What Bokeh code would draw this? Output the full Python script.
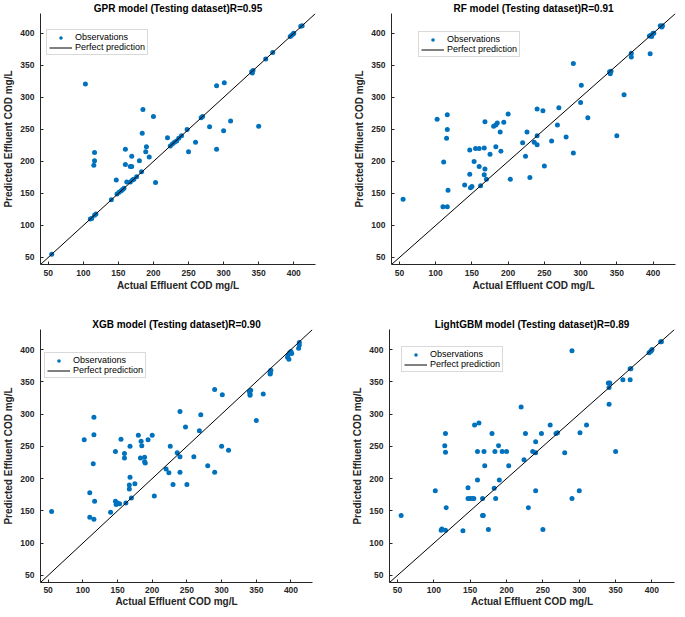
from bokeh.plotting import figure
from bokeh.layouts import column, row
from bokeh.models import Range1d, FixedTicker, Legend, LegendItem
from bokeh.embed import file_html
from bokeh.resources import INLINE

# ---------------- data ----------------
AXIS_LIMITS = [39, 431]
TICKS = [50, 100, 150, 200, 250, 300, 350, 400]
X_LABEL = "Actual Effluent COD mg/L"
Y_LABEL = "Predicted Effluent COD mg/L"

gpr_title = "GPR model (Testing dataset)R=0.95"
gpr_actual = [55, 103, 110, 112, 116, 118, 115, 116, 116, 140, 147, 148, 151, 154, 156, 158,
              160, 160, 162, 167, 170, 172, 176, 183, 167, 169, 169, 180, 184, 185, 189, 190,
              194, 200, 203, 220, 224, 227, 230, 233, 236, 240, 248, 250, 260, 268, 270, 280,
              290, 290, 300, 301, 310, 340, 341, 342, 350, 360, 370, 395, 397, 399, 400, 410, 412]
gpr_pred = [55, 321, 110, 111, 116, 118, 194, 201, 214, 140, 171, 149, 152, 154, 156, 158,
            219, 195, 168, 168, 171, 172, 176, 184, 192, 192, 208, 201, 244, 281, 215, 223,
            207, 270, 167, 237, 224, 227, 230, 232, 236, 240, 250, 215, 230, 268, 270, 254,
            318, 219, 248, 323, 263, 340, 338, 342, 255, 360, 370, 395, 397, 399, 400, 411, 412]

rf_title = "RF model (Testing dataset)R=0.91"
rf_actual = [55, 102, 110, 116, 111, 115, 116, 116, 117, 140, 147, 147, 148, 150, 153, 155,
             160, 160, 162, 167, 167, 168, 168, 170, 175, 180, 183, 185, 183, 189, 190, 194,
             200, 203, 220, 224, 226, 230, 236, 240, 240, 240, 248, 250, 260, 268, 270, 280,
             290, 290, 300, 301, 310, 340, 341, 342, 350, 360, 370, 370, 396, 395, 397, 398,
             400, 401, 410, 412, 413]
rf_pred = [141, 266, 129, 129, 199, 236, 250, 273, 155, 163, 180, 218, 159, 161, 200, 220,
           220, 192, 162, 221, 179, 188, 262, 172, 211, 255, 257, 260, 223, 246, 216, 261,
           274, 172, 229, 208, 246, 175, 230, 240, 226, 282, 279, 193, 232, 257, 284, 238,
           213, 353, 292, 319, 268, 340, 337, 341, 240, 304, 369, 363, 368, 396, 397, 395,
           400, 400, 412, 410, 412]

xgb_title = "XGB model (Testing dataset)R=0.90"
xgb_actual = [55, 102, 110, 110, 115, 116, 116, 116, 117, 140, 147, 148, 150, 153, 147, 155,
              160, 160, 162, 167, 167, 168, 168, 170, 175, 180, 183, 184, 185, 189, 189, 190,
              194, 200, 203, 220, 224, 226, 230, 236, 240, 240, 240, 248, 250, 260, 268, 270,
              280, 290, 290, 300, 301, 310, 340, 341, 342, 341, 350, 360, 370, 370, 371, 370,
              395, 396, 397, 398, 400, 401, 411, 412, 412]
xgb_pred = [149, 260, 178, 140, 223, 137, 295, 268, 165, 148, 165, 160, 162, 161, 242, 261,
            239, 232, 162, 190, 184, 202, 250, 170, 192, 267, 232, 258, 251, 233, 226, 224,
            260, 267, 173, 215, 209, 250, 191, 240, 304, 234, 210, 280, 191, 234, 274, 299,
            220, 210, 338, 250, 330, 244, 335, 331, 337, 329, 290, 331, 366, 362, 368, 363,
            388, 392, 385, 395, 397, 394, 402, 407, 411]

lgbm_title = "LightGBM model (Testing dataset)R=0.89"
lgbm_actual = [55, 102, 110, 111, 115, 116, 116, 116, 117, 140, 147, 147, 150, 153, 155, 156,
               160, 160, 162, 167, 167, 168, 169, 170, 175, 180, 183, 184, 185, 189, 190, 194,
               200, 203, 220, 224, 226, 230, 236, 240, 240, 240, 248, 250, 260, 268, 270, 280,
               290, 290, 300, 301, 310, 340, 342, 341, 341, 350, 360, 370, 370, 371, 396, 398,
               399, 400, 412, 413]
lgbm_pred = [143, 181, 120, 122, 251, 270, 241, 120, 155, 119, 186, 169, 169, 169, 169, 283,
             198, 242, 286, 169, 143, 143, 242, 220, 121, 270, 185, 242, 169, 251, 198, 242,
             242, 220, 311, 229, 270, 155, 242, 257, 240, 181, 270, 121, 283, 270, 271, 240,
             169, 398, 181, 271, 283, 348, 348, 341, 315, 242, 353, 353, 370, 370, 395, 397,
             398, 400, 412, 412]

BLUE = "#0072BD"
AX = "#262626"
FONT = "Liberation Sans"


def make_panel(title, actual, pred, width, height, mb, legend_loc, x_standoffs):
    left, right, top, bottom = mb
    p = figure(width=width, height=height,
               x_range=Range1d(*AXIS_LIMITS), y_range=Range1d(*AXIS_LIMITS),
               output_backend="svg", toolbar_location=None,
               min_border_left=left, min_border_right=right,
               min_border_top=top, min_border_bottom=bottom,
               title=title)
    p.outline_line_color = None
    p.background_fill_color = "white"
    p.border_fill_color = "white"
    p.xgrid.visible = False
    p.ygrid.visible = False

    p.title.align = "center"
    p.title.text_font = FONT
    p.title.text_font_size = "10px"
    p.title.text_font_style = "bold"
    p.title.text_color = "black"
    p.title.standoff = 0

    for ax in (p.xaxis, p.yaxis):
        ax.ticker = FixedTicker(ticks=TICKS)
        ax.axis_line_color = AX
        ax.major_tick_line_color = AX
        ax.major_tick_in = 3
        ax.major_tick_out = 0
        ax.minor_tick_line_color = None
        ax.major_label_text_font = FONT
        ax.major_label_text_font_size = "8.5px"
        ax.major_label_text_font_style = "bold"
        ax.major_label_text_color = AX
        ax.axis_label_text_font = FONT
        ax.axis_label_text_font_size = "10px"
        ax.axis_label_text_font_style = "bold"
        ax.axis_label_text_color = AX
    p.xaxis.axis_label = X_LABEL
    p.yaxis.axis_label = Y_LABEL
    p.xaxis.major_label_standoff = x_standoffs[0]
    p.xaxis.axis_label_standoff = x_standoffs[1]
    p.yaxis.major_label_standoff = 6
    p.yaxis.axis_label_standoff = 3

    sc = p.scatter(actual, pred, size=5, fill_color=BLUE, line_color=None)
    ln = p.line(AXIS_LIMITS, AXIS_LIMITS, line_color="black", line_width=1)

    legend = Legend(items=[LegendItem(label="Observations", renderers=[sc]),
                           LegendItem(label="Perfect prediction", renderers=[ln])],
                    location=legend_loc)
    legend.label_text_font = FONT
    legend.label_text_font_size = "9px"
    legend.label_text_color = "black"
    legend.glyph_width = 23
    legend.glyph_height = 9
    legend.label_height = 9
    legend.label_standoff = 3
    legend.padding = 2
    legend.spacing = 0
    legend.margin = 0
    legend.border_line_color = "#b4b4b4"
    legend.border_line_width = 1
    legend.background_fill_color = "white"
    legend.background_fill_alpha = 1
    p.add_layout(legend)
    return p


p1 = make_panel(gpr_title, gpr_actual, gpr_pred, 340, 305, (37, 25, 12, 41), (6, 209), (5, 1))
p2 = make_panel(rf_title, rf_actual, rf_pred, 337, 305, (51, 2, 12, 40), (27, 207), (5, 1))
p3 = make_panel(xgb_title, xgb_actual, xgb_pred, 340, 304, (37, 28, 24, 26), (4, 204), (4, 0))
p4 = make_panel(lgbm_title, lgbm_actual, lgbm_pred, 337, 304, (49, 3, 24, 26), (12, 210), (4, 0))

layout = column(row(p1, p2, spacing=0), row(p3, p4, spacing=0), spacing=0)

with open("out.html", "w") as f:
    f.write(file_html(layout, INLINE))
